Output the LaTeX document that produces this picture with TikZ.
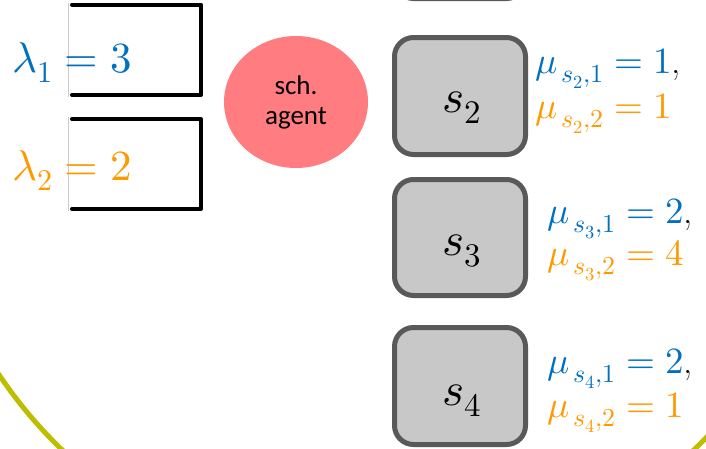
\documentclass[tikz,border=0pt]{standalone}
\usepackage{fontspec}
\usepackage{unicode-math}
\setmathfont{Latin Modern Math}
\usetikzlibrary{shapes.geometric}
\newfontfamily\carlito{Carlito}
\definecolor{qblue}{RGB}{0,112,192}
\definecolor{qorange}{RGB}{255,153,0}
\definecolor{srvgray}{RGB}{200,200,200}
\definecolor{srvedge}{RGB}{89,89,89}
\definecolor{agentred}{RGB}{255,124,128}
\definecolor{arcolive}{RGB}{190,190,0}
\definecolor{guidegray}{RGB}{205,205,205}
\tikzset{
  server/.style={draw=srvedge, line width=5pt, fill=srvgray, rounded corners=19pt, inner sep=0pt},
  queuebox/.style={draw=black, line width=4pt, line cap=round, line join=round},
  guide/.style={draw=guidegray, line width=1.2pt},
  srvlab/.style={anchor=base, inner sep=0pt, font=\fontsize{47}{50}\selectfont},
  ratelab/.style={anchor=base west, inner sep=0pt, font=\fontsize{37}{40}\selectfont},
  arrlab/.style={anchor=base west, inner sep=0pt, font=\fontsize{43}{48}\selectfont},
}
\begin{document}
\begin{tikzpicture}[x=1pt,y=-1pt]
\useasboundingbox (0,0) rectangle (706,448);
% olive arc
\draw[arcolive, line width=5pt] (378,121) circle (456);
% queue boxes
\coordinate (q1tl) at (72,4.5);
\coordinate (q1tr) at (201,4.5);
\coordinate (q1br) at (201,95);
\coordinate (q1bl) at (72,95);
\draw[queuebox] (q1tl) -- (q1tr) -- (q1br) -- (q1bl);
\coordinate (q2tl) at (72,119);
\coordinate (q2tr) at (201,119);
\coordinate (q2br) at (201,209);
\coordinate (q2bl) at (72,209);
\draw[queuebox] (q2tl) -- (q2tr) -- (q2br) -- (q2bl);
\coordinate (g1t) at (68.5,3);
\coordinate (g1b) at (68.5,97);
\coordinate (g2t) at (68.5,117);
\coordinate (g2b) at (68.5,211);
\draw[guide] (g1t) -- (g1b);
\draw[guide] (g2t) -- (g2b);
% arrival rates
\node[arrlab, text=qblue] (lam1) at (12,72) {$\lambda_1 = 3$};
\node[arrlab, text=qorange] (lam2) at (12,180) {$\lambda_2 = 2$};
% agent
\node[ellipse, fill=agentred, minimum width=144pt, minimum height=132pt, inner sep=0pt,
      align=center, font=\carlito\fontsize{27}{30}\selectfont] (agent) at (296,102) {sch.\\agent};
% servers
\node[server, minimum width=131pt, minimum height=117pt] (s1) at (460,-60) {};
\node[server, minimum width=131pt, minimum height=117pt] (s2) at (460,96) {};
\node[server, minimum width=131pt, minimum height=116pt] (s3) at (460,237.5) {};
\node[server, minimum width=131pt, minimum height=117pt] (s4) at (460,386) {};
\node[srvlab] (s2lab) at (462,112) {$s_2$};
\node[srvlab] (s3lab) at (462,255) {$s_3$};
\node[srvlab] (s4lab) at (462,405) {$s_4$};
% service rates
\node[ratelab] (m21) at (535,73) {\color{qblue}$\mu_{\hspace{4pt}s_2,1} = 1$\color{black},};
\node[ratelab] (m22) at (535,118) {\color{qorange}$\mu_{\hspace{4pt}s_2,2} = 1$};
\node[ratelab] (m31) at (547,223) {\color{qblue}$\mu_{\hspace{4pt}s_3,1} = 2$\color{black},};
\node[ratelab] (m32) at (547,265) {\color{qorange}$\mu_{\hspace{4pt}s_3,2} = 4$};
\node[ratelab] (m41) at (547,373) {\color{qblue}$\mu_{\hspace{4pt}s_4,1} = 2$\color{black},};
\node[ratelab] (m42) at (547,417) {\color{qorange}$\mu_{\hspace{4pt}s_4,2} = 1$};
\end{tikzpicture}
\end{document}
